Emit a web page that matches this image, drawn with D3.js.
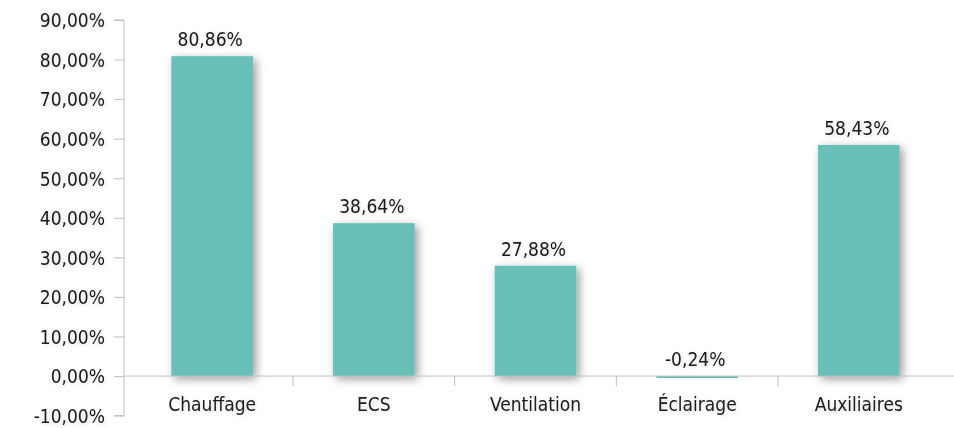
<!DOCTYPE html>
<html lang="fr">
<head>
<meta charset="utf-8">
<title>Bar chart</title>
<script src="https://d3js.org/d3.v7.min.js"></script>
<style>
  body { margin: 0; background: #fff; }
  text { font-family: "DejaVu Sans Condensed", "DejaVu Sans", sans-serif; fill: #1a1a1a; }
</style>
</head>
<body>
<svg width="954" height="428"></svg>
<script>
const categories = ["Chauffage", "ECS", "Ventilation", "Éclairage", "Auxiliaires"];
const values = [80.86, 38.64, 27.88, -0.24, 58.43];
const yTicks = [-10, 0, 10, 20, 30, 40, 50, 60, 70, 80, 90];

const svg = d3.select("svg");
const fmt = v => d3.format(".2f")(v).replace(".", ",").replace("−", "-") + "%";

const x = d3.scaleBand().domain(categories).range([124, 947]).paddingInner(0.495).paddingOuter(0.293);
const y = d3.scaleLinear().domain([-10, 90]).range([415.6, 20]);

const defs = svg.append("defs");
const f = defs.append("filter").attr("id", "sh").attr("x", "-40%").attr("y", "-20%").attr("width", "180%").attr("height", "140%");
f.append("feDropShadow").attr("dx", 3).attr("dy", 3).attr("stdDeviation", 5).attr("flood-color", "#000").attr("flood-opacity", 0.4);
const ft = defs.append("filter").attr("id", "tsh").attr("x", "-20%").attr("y", "-40%").attr("width", "140%").attr("height", "180%");
ft.append("feDropShadow").attr("dx", 1).attr("dy", 1).attr("stdDeviation", 2).attr("flood-color", "#000").attr("flood-opacity", 0.15);

// y axis
const yAxis = svg.append("g").attr("transform", "translate(124,0)")
  .call(d3.axisLeft(y).tickValues(yTicks).tickFormat(fmt).tickSize(10).tickPadding(9));
yAxis.select(".domain").attr("stroke", "#bfbfbf").attr("d", `M-10,${y(-10)}H0V${y(90)}H-10`);
yAxis.selectAll(".tick line").attr("stroke", "#bfbfbf");
yAxis.selectAll("text").style("font-size", "19px").attr("fill", "#1a1a1a").attr("dy", "0.36em").attr("filter", "url(#tsh)");

// bars
svg.append("g").selectAll("rect").data(values).join("rect")
  .attr("x", (d, i) => x(categories[i]))
  .attr("width", x.bandwidth())
  .attr("y", d => y(Math.max(0, d)))
  .attr("height", d => Math.max(2, Math.abs(y(d) - y(0))))
  .attr("fill", "#69c0b8")
  .attr("filter", d => d > 0 ? "url(#sh)" : null);

// x axis at 0
const mid = i => (x(categories[i - 1]) + x(categories[i])) / 2 + x.bandwidth() / 2;
const xg = svg.append("g");
xg.append("line").attr("x1", 124).attr("x2", 954).attr("y1", y(0)).attr("y2", y(0)).attr("stroke", "#bfbfbf");
xg.selectAll("line.t").data(d3.range(1, categories.length)).join("line").attr("class", "t")
  .attr("x1", mid).attr("x2", mid)
  .attr("y1", y(0)).attr("y2", y(0) + 10).attr("stroke", "#bfbfbf");
xg.selectAll("text").data(categories).join("text")
  .attr("x", d => x(d) + x.bandwidth() / 2).attr("y", y(0) + 35)
  .attr("text-anchor", "middle").style("font-size", "19px").attr("filter", "url(#tsh)").text(d => d);

// value labels
svg.append("g").selectAll("text").data(values).join("text")
  .attr("x", (d, i) => x(categories[i]) + x.bandwidth() / 2 - 2)
  .attr("y", d => y(Math.max(0, d)) - 10)
  .attr("text-anchor", "middle").style("font-size", "19px").attr("filter", "url(#tsh)").text(fmt);
</script>
</body>
</html>
